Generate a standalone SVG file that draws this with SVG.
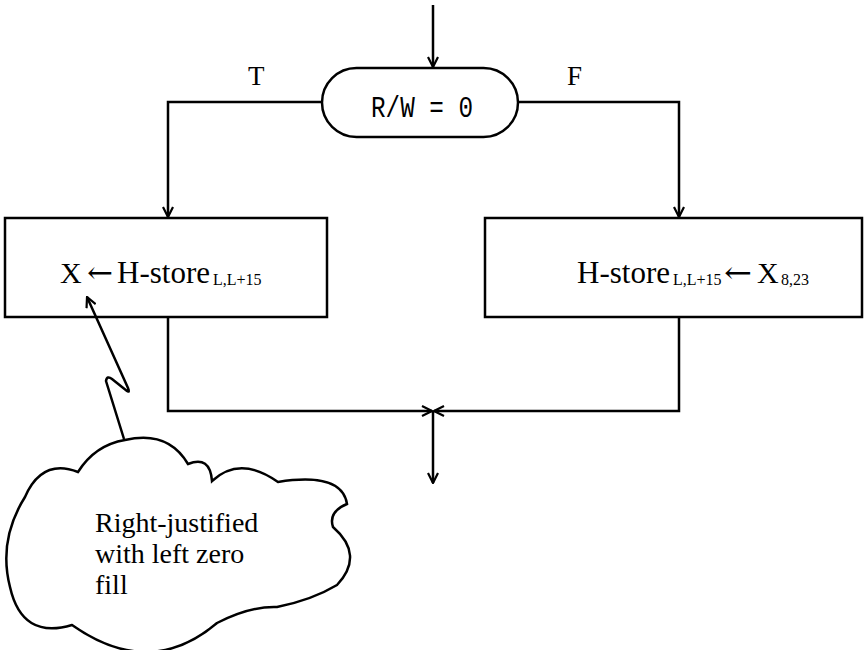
<svg xmlns="http://www.w3.org/2000/svg" width="868" height="650" viewBox="0 0 868 650">
<defs>
<style>
.ln{fill:none;stroke:#000;stroke-width:2.5}
.bx{fill:#fff;stroke:#000;stroke-width:2.5}
.serif{font-family:"Liberation Serif","Times New Roman",serif;fill:#000}
.arr{font-family:"DejaVu Serif","Liberation Serif",serif;fill:#000}
.mono{font-family:"Liberation Mono","Courier New",monospace;fill:#000}
</style>
<marker id="ah" viewBox="0 0 12 12" refX="11" refY="6" markerWidth="12" markerHeight="12" markerUnits="userSpaceOnUse" orient="auto">
<path d="M1,1 L11,6 L1,11" fill="none" stroke="#000" stroke-width="2.2"/>
</marker>
</defs>
<rect width="868" height="650" fill="#fff"/>
<g id="label-T"><text class="serif" x="248" y="85" font-size="27">T</text></g>
<g id="label-F"><text class="serif" x="567" y="85" font-size="27">F</text></g>
<g id="decision">
<rect class="bx" x="322" y="68" width="196" height="69" rx="34.5" ry="34.5"/>
<text class="mono" x="371" y="117" font-size="30" textLength="102" lengthAdjust="spacingAndGlyphs">R/W = 0</text>
</g>
<g id="box-true">
<rect class="bx" x="5" y="218" width="322" height="99"/>
<text class="serif" x="60" y="283" font-size="30">X</text>
<text class="arr" x="87" y="283" font-size="30" textLength="26" lengthAdjust="spacingAndGlyphs">←</text>
<text class="serif" x="117" y="283" font-size="31">H-store</text>
<text class="serif" x="213" y="285" font-size="16">L,L+15</text>
</g>
<g id="box-false">
<rect class="bx" x="485" y="218" width="377" height="99"/>
<text class="serif" x="577" y="283" font-size="31">H-store</text>
<text class="serif" x="673" y="285" font-size="16">L,L+15</text>
<text class="arr" x="724" y="283" font-size="30" textLength="28" lengthAdjust="spacingAndGlyphs">←</text>
<text class="serif" x="757" y="283" font-size="30">X</text>
<text class="serif" x="781" y="285" font-size="16">8,23</text>
</g>
<g id="cloud">
<path class="ln" d="M125,440 Q168,430 188,464 Q210,455 212,481 Q240,455 278,482 Q342,472 347,504 Q328,512 333,527 Q365,555 337,585 Q312,600 277,607 Q250,606 217,623 Q150,680 72,625 Q22,640 10,587 Q-2,540 25,497 Q42,458 78,472 Q95,445 125,440 Z"/>
<text class="serif" x="95" y="532" font-size="28" font-family="Liberation Serif, serif">Right-justified</text>
<text class="serif" x="95" y="563" font-size="28" font-family="Liberation Serif, serif">with left zero</text>
<text class="serif" x="95" y="594" font-size="28" font-family="Liberation Serif, serif">fill</text>
</g>
<g id="connectors">
<path class="ln" d="M433,5 L433,67" marker-end="url(#ah)"/>
<path class="ln" d="M322,102 L168,102 L168,217" marker-end="url(#ah)"/>
<path class="ln" d="M518,102 L679,102 L679,217" marker-end="url(#ah)"/>
<path class="ln" d="M168,318 L168,411 L432,411" marker-end="url(#ah)"/>
<path class="ln" d="M679,318 L679,411 L434,411" marker-end="url(#ah)"/>
<path class="ln" d="M433,411 L433,483" marker-end="url(#ah)"/>
<path class="ln" d="M124,439 L106,381 Q107,375 112,379 L127,391 Q130,393 128,388 L87,297" marker-end="url(#ah)"/>
</g>
</svg>
